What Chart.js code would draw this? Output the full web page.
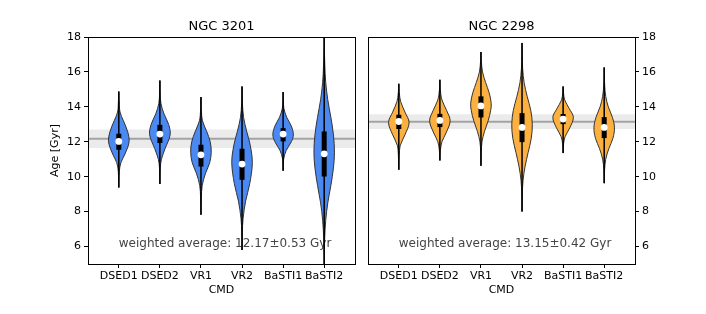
<!DOCTYPE html>
<html>
<head>
<meta charset="utf-8">
<script src="https://cdn.jsdelivr.net/npm/chart.js@4.4.1/dist/chart.umd.min.js"></script>
<style>
  html, body { margin: 0; padding: 0; background: #fff; }
  #wrap { position: relative; width: 706px; height: 314px; }
  canvas { position: absolute; top: 0; }
  #c1 { left: 0; }
  #c2 { left: 362px; }
</style>
</head>
<body>
<div id="wrap">
  <canvas id="c1" width="362" height="314"></canvas>
  <canvas id="c2" width="344" height="314"></canvas>
</div>
<script>
// categories and ticks
const cmds = ['DSED1', 'DSED2', 'VR1', 'VR2', 'BaSTI1', 'BaSTI2'];
const yTicks = [6, 8, 10, 12, 14, 16, 18];

// NGC 3201
const med3201 = [12.02, 12.44, 11.25, 10.72, 12.44, 11.31];
const q1_3201 = [11.54, 11.93, 10.58, 9.82, 12.02, 10.01];
const q3_3201 = [12.46, 12.97, 11.83, 11.60, 12.78, 12.59];
const lo3201 = [9.38, 9.58, 7.82, 5.8, 10.34, 4.5];
const hi3201 = [14.88, 15.51, 14.56, 15.17, 14.85, 18.5];
const ages3201 = [
  [9.38, 10.3, 10.8, 11.3, 12.0, 12.6, 13.2, 13.7, 14.3, 14.88],
  [9.58, 10.5, 11.0, 11.6, 12.4, 13.0, 13.6, 14.2, 14.8, 15.51],
  [7.82, 8.8, 9.5, 10.2, 10.8, 11.4, 12.0, 12.6, 13.2, 13.8, 14.56],
  [5.8, 6.8, 7.6, 8.6, 9.6, 10.8, 11.8, 12.6, 13.4, 14.2, 15.17],
  [10.34, 11.0, 11.5, 12.0, 12.4, 12.9, 13.4, 13.9, 14.3, 14.85],
  [4.5, 5.5, 6.5, 7.5, 8.5, 9.5, 10.5, 11.4, 12.4, 13.4, 14.4, 15.4, 16.4, 17.4, 18.5]
];
const widths3201 = [
  [0, 0.05, 0.2, 0.6, 1.0, 0.85, 0.45, 0.12, 0.04, 0],
  [0, 0.04, 0.15, 0.5, 1.0, 0.85, 0.4, 0.1, 0.03, 0],
  [0, 0.04, 0.12, 0.45, 0.85, 1.0, 0.9, 0.55, 0.15, 0.04, 0],
  [0, 0.03, 0.1, 0.35, 0.75, 1.0, 0.8, 0.45, 0.15, 0.04, 0],
  [0, 0.05, 0.3, 0.8, 1.0, 0.8, 0.35, 0.08, 0.03, 0],
  [0, 0.02, 0.05, 0.15, 0.35, 0.65, 0.9, 1.0, 0.9, 0.65, 0.35, 0.15, 0.06, 0.02, 0]
];
const avg3201 = 12.17;
const err3201 = 0.53;

// NGC 2298
const med2298 = [13.16, 13.22, 14.05, 12.82, 13.30, 12.82];
const q1_2298 = [12.73, 12.84, 13.39, 11.98, 13.01, 12.21];
const q3_2298 = [13.55, 13.60, 14.60, 13.64, 13.59, 13.41];
const lo2298 = [10.4, 10.93, 10.62, 8.0, 11.35, 9.63];
const hi2298 = [15.32, 15.55, 17.14, 17.66, 15.17, 16.26];
const ages2298 = [
  [10.4, 11.2, 11.8, 12.4, 13.1, 13.7, 14.3, 14.8, 15.32],
  [10.93, 11.5, 12.0, 12.5, 13.2, 13.8, 14.4, 15.0, 15.55],
  [10.62, 11.4, 12.0, 12.6, 13.2, 13.8, 14.2, 14.8, 15.4, 16.0, 16.6, 17.14],
  [8.0, 9.0, 9.8, 10.6, 11.4, 12.2, 13.0, 13.8, 14.6, 15.4, 16.2, 17.0, 17.66],
  [11.35, 11.9, 12.3, 12.8, 13.4, 13.9, 14.4, 14.8, 15.17],
  [9.63, 10.4, 11.0, 11.6, 12.2, 12.8, 13.4, 14.0, 14.6, 15.2, 15.7, 16.26]
];
const widths2298 = [
  [0, 0.04, 0.15, 0.6, 1.0, 0.6, 0.18, 0.05, 0],
  [0, 0.05, 0.2, 0.6, 1.0, 0.65, 0.2, 0.04, 0],
  [0, 0.03, 0.1, 0.35, 0.7, 0.95, 1.0, 0.8, 0.45, 0.15, 0.04, 0],
  [0, 0.03, 0.1, 0.3, 0.6, 0.9, 1.0, 0.85, 0.5, 0.2, 0.06, 0.02, 0],
  [0, 0.05, 0.2, 0.65, 1.0, 0.6, 0.15, 0.04, 0],
  [0, 0.04, 0.15, 0.45, 0.85, 1.0, 0.8, 0.4, 0.15, 0.05, 0.02, 0]
];
const avg2298 = 13.15;
const err2298 = 0.42;

Chart.defaults.font.family = 'DejaVu Sans';
Chart.defaults.color = '#000';

function buildDatasets(ages, widths, q1, q3, lo, hi, med, avg, err, color) {
  const ds = [];
  // shaded band + average line
  ds.push({ data: [{x: 0.25, y: avg + err}, {x: 6.75, y: avg + err}], borderWidth: 0, pointRadius: 0,
            fill: {value: avg - err}, backgroundColor: '#ebebeb', order: 10 });
  ds.push({ data: [{x: 0.25, y: avg}, {x: 6.75, y: avg}], borderColor: '#a3a3a3', borderWidth: 2,
            pointRadius: 0, fill: false, order: 9 });
  cmds.forEach((c, i) => {
    const pos = i + 1;
    const right = ages[i].map((a, k) => ({x: pos + widths[i][k] * 0.25, y: a}));
    const left = ages[i].map((a, k) => ({x: pos - widths[i][k] * 0.25, y: a})).reverse().slice(1);
    ds.push({ data: right.concat(left), fill: 'shape', backgroundColor: color, borderColor: '#333',
              borderWidth: 1, tension: 0.35, pointRadius: 0, order: 8 });
    ds.push({ data: [{x: pos, y: lo[i]}, {x: pos, y: hi[i]}], borderColor: '#000', borderWidth: 1.5,
              pointRadius: 0, fill: false, order: 7 });
    ds.push({ data: [{x: pos, y: q1[i]}, {x: pos, y: q3[i]}], borderColor: '#000', borderWidth: 5,
              borderCapStyle: 'butt', pointRadius: 0, fill: false, order: 6 });
  });
  ds.push({ data: med.map((m, i) => ({x: i + 1, y: m})), showLine: false, pointRadius: 3.4,
            pointBackgroundColor: '#fff', pointBorderWidth: 0, order: 1 });
  return ds;
}

const decor = {
  id: 'decor',
  beforeDatasetsDraw(chart, args, opts) {
    const {ctx, scales: {x, y}} = chart;
    ctx.save();
    ctx.font = '12px "DejaVu Sans"';
    ctx.fillStyle = '#444';
    ctx.textAlign = 'left';
    ctx.textBaseline = 'alphabetic';
    ctx.fillText(opts.note, x.getPixelForValue(1), y.getPixelForValue(6));
    ctx.restore();
  },
  afterDraw(chart, args, opts) {
    const {ctx, chartArea: a} = chart;
    ctx.save();
    // frame round the axes
    const l = Math.round(a.left) + 0.5, t = Math.round(a.top) + 0.5;
    const r = Math.round(a.right) + 0.5, b = Math.round(a.bottom) + 0.5;
    ctx.strokeStyle = '#000';
    ctx.lineWidth = 1;
    ctx.strokeRect(l, t, r - l, b - t);
    ctx.font = '13px "DejaVu Sans"';
    ctx.fillStyle = '#000';
    ctx.textAlign = 'center';
    ctx.textBaseline = 'middle';
    ctx.fillText(opts.title, (a.left + a.right) / 2, 27);
    ctx.restore();
  }
};

function makeChart(id, title, note, datasets, yPos, yWidth, padding) {
  const yScale = {
    position: yPos,
    min: 5, max: 18,
    afterBuildTicks: s => { s.ticks = yTicks.map(v => ({value: v})); },
    afterFit: s => { s.width = yWidth; },
    ticks: { padding: 3, font: {size: 11} },
    grid: { display: true, drawOnChartArea: false, drawTicks: true, tickLength: 4, tickColor: '#000' },
    border: { display: false },
    title: { display: yPos === 'left', text: 'Age [Gyr]', font: {size: 11}, padding: {top: 49, bottom: 0} }
  };
  return new Chart(document.getElementById(id), {
    type: 'line',
    data: { datasets },
    options: {
      responsive: false,
      animation: false,
      devicePixelRatio: 1,
      layout: { padding },
      plugins: {
        legend: { display: false },
        tooltip: { enabled: false },
        decor: { title, note }
      },
      scales: {
        x: {
          type: 'linear',
          min: 0.25, max: 6.75,
          afterBuildTicks: s => { s.ticks = cmds.map((c, i) => ({value: i + 1})); },
          afterFit: s => { s.height = 50; },
          ticks: { callback: v => cmds[v - 1], autoSkip: false, maxRotation: 0, padding: 2, font: {size: 11} },
          grid: { display: true, drawOnChartArea: false, drawTicks: true, tickLength: 4, tickColor: '#000' },
          border: { display: false },
          title: { display: true, text: 'CMD', font: {size: 11}, padding: {top: 0, bottom: 17} }
        },
        y: yScale
      }
    },
    plugins: [decor]
  });
}

makeChart('c1', 'NGC 3201', 'weighted average: 12.17\u00b10.53 Gyr',
  buildDatasets(ages3201, widths3201, q1_3201, q3_3201, lo3201, hi3201, med3201, avg3201, err3201, '#4a88f2'),
  'left', 88, {left: 0, right: 7, top: 37, bottom: 0});

makeChart('c2', 'NGC 2298', 'weighted average: 13.15\u00b10.42 Gyr',
  buildDatasets(ages2298, widths2298, q1_2298, q3_2298, lo2298, hi2298, med2298, avg2298, err2298, '#fbb040'),
  'right', 71, {left: 6, right: 0, top: 37, bottom: 0});
</script>
</body>
</html>
